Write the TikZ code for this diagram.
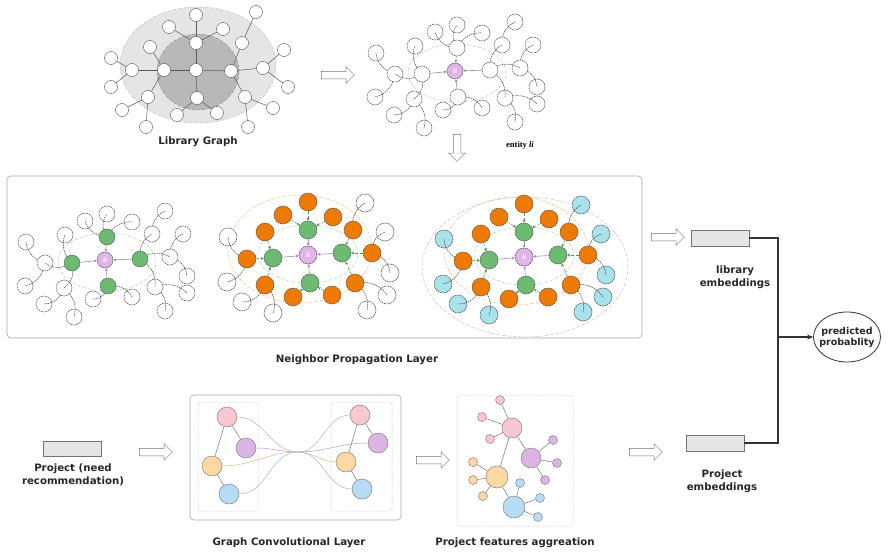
\documentclass[tikz,border=0pt]{standalone}
\usepackage{fontspec}
\setmainfont{DejaVu Sans}
\newfontfamily\timesfont{Liberation Serif}
\usetikzlibrary{shapes.geometric,shapes.arrows,arrows.meta}

% Colours of the figure
\definecolor{nodegreen}{HTML}{6DBB72}
\definecolor{nodeorange}{HTML}{EF7A00}
\definecolor{nodecyan}{HTML}{A8E2EA}
\definecolor{nodeli}{HTML}{E0B4E6}
\definecolor{softpink}{HTML}{F8C7D1}
\definecolor{softpurple}{HTML}{DDB5E4}
\definecolor{softorange}{HTML}{FCD9A3}
\definecolor{softblue}{HTML}{B6DBF4}

\tikzset{
  plainnode/.style={circle, draw=black!70, dash pattern=on 1.6pt off 0.7pt, line width=0.5pt, fill=white, minimum size=16pt, inner sep=0pt},
  bignode/.style={plainnode, minimum size=18pt},
  linode/.style={plainnode, fill=nodeli, text=white, font=\timesfont\bfseries\itshape\fontsize{7}{7}\selectfont},
  libnode/.style={circle, draw=black!70, line width=0.4pt, fill=white, minimum size=13pt, inner sep=0pt},
  linkline/.style={draw=black!70, dash pattern=on 1.6pt off 0.7pt, line width=0.5pt},
  liarrow/.style={draw=nodeli!75!black, line width=0.6pt, -{Stealth[length=3pt,width=3pt]}},
  hoparrow/.style={draw=nodegreen!75!black, densely dashed, line width=0.5pt, -{Stealth[length=3pt,width=3pt]}},
  greenring/.style={draw=nodegreen!60, densely dash dot, line width=0.5pt},
  orangering/.style={draw=nodeorange!50, densely dash dot, line width=0.5pt},
  grayring/.style={draw=black!25, densely dash dot, line width=0.5pt},
  hollow/.style={single arrow, draw=black!55, fill=white, line width=0.5pt, minimum height=33pt, inner sep=3.5pt, single arrow head extend=4.5pt},
  titletext/.style={font=\bfseries\fontsize{10.2}{12.5}\selectfont, text=black!85, align=center},
  embbox/.style={draw=black!55, fill=black!10, line width=0.5pt, minimum width=58pt, minimum height=16pt, inner sep=0pt},
  joinline/.style={draw=black!80, line width=1.4pt},
  panel/.style={draw=black!35, rounded corners=4pt, line width=0.6pt},
  dashpanel/.style={draw=black!35, densely dotted, rounded corners=3pt, line width=0.5pt},
  featnode/.style={circle, draw=black!55, line width=0.4pt, inner sep=0pt},
  featline/.style={draw=black!55, line width=0.5pt},
}

% Entity li with its first-hop neighbours (#1 = fill of the neighbours)
\newcommand{\entitygraph}[1]{%
  \draw[greenring] (2,2) ellipse (49pt and 29pt);
  \node[linode] (li) at (0,0) {li};
  \foreach \n/\x/\y in {n1/2/-23, n2/-33/3, n3/35/-1, n4/3/26}
    \node[plainnode, fill=#1] (\n) at (\x,\y) {};
  \foreach \n/\x/\y in {o5/-20/-39, o6/2/-46, o7/27/-38, o8/-40/-25, o9/-60/3, o10/-79/-18,
                        o11/-80/26, o12/-41/28, o13/-61/44, o14/-31/57, o15/-12/39, o16/27/37,
                        o17/47/-26, o18/60/-49, o19/78/-26, o20/65/-3, o21/82/16, o22/82/33,
                        o23/50/27, o24/60/51}
    \node[plainnode] (\n) at (\x,\y) {};
  \foreach \n in {n1,n2,n3,n4}
    \draw[liarrow] (\n) -- (li);
  \foreach \p/\n in {n1/o5, n1/o6, n1/o7, n2/o8, n2/o9, o9/o10, o9/o11, n2/o12, o12/o13,
                     o12/o14, n4/o15, n4/o16, n3/o17, o17/o18, o20/o19, n3/o20, o20/o21,
                     o23/o22, n3/o23, o23/o24}
    \draw[linkline] (\p) to[bend left=25] (\n);
}

% Entity li with first- and second-hop neighbours (#1 = fill of the outer nodes)
\newcommand{\twohopgraph}[1]{%
  \draw[orangering] (-8,-6) ellipse (72pt and 54pt);
  \draw[greenring] (0,-1) ellipse (50pt and 29pt);
  \node[linode, minimum size=18pt] (li) at (0,0) {li};
  \foreach \n/\x/\y in {n1/0/-25, n2/-35/3, n3/34/-2, n4/2/28}
    \node[bignode, fill=nodegreen] (\n) at (\x,\y) {};
  \foreach \n/\x/\y in {m5/0/-53, m6/-25/-40, m7/25/-38, m8/-43/-23, m9/-61/4, m10/-43/30,
                        m11/45/-25, m12/64/-2, m13/47/28, m14/-15/42, m15/24/40}
    \node[bignode, fill=nodeorange] (\n) at (\x,\y) {};
  \foreach \n/\x/\y in {o16/57/-52, o17/-80/-18, o18/77/-23, o19/-81/27, o20/82/18,
                        o21/-66/47, o22/79/40, o23/-35/58, o24/59/55}
    \node[bignode, fill=#1] (\n) at (\x,\y) {};
  \foreach \n in {n1,n2,n3,n4}
    \draw[liarrow] (\n) -- (li);
  \foreach \n/\p in {m5/n1, m6/n1, m7/n1, m8/n2, m9/n2, m10/n2, m11/n3, m12/n3, m13/n3,
                     m14/n4, m15/n4}
    \draw[hoparrow] (\n) -- (\p);
  \foreach \p/\n in {m11/o16, m9/o17, m12/o18, m9/o19, m12/o20, m10/o21, m13/o22,
                     m10/o23, m13/o24}
    \draw[linkline] (\p) to[bend left=25] (\n);
}

\begin{document}
\begin{tikzpicture}[x=1pt,y=-1pt]
\useasboundingbox (0,0) rectangle (891,554);

% Library graph: shaded rings
\draw[grayring, fill=black!10] (198,65) ellipse (78pt and 58pt);
\draw[draw=black!45, densely dashed, fill=black!28] (198,72) ellipse (41pt and 38pt);

% Library graph: nodes
\foreach \n/\x/\y in {g0/196/70, g1/196/43, g2/197/98, g3/164/70, g4/231/71, g5/196/15,
                      g6/169/27, g7/223/29, g8/150/47, g9/242/43, g10/132/70, g11/263/68,
                      g12/148/97, g13/245/97, g14/177/115, g15/217/113, g16/111/58,
                      g17/111/87, g18/122/110, g19/146/127, g20/256/12, g21/284/50,
                      g22/288/87, g23/273/108, g24/248/127}
  \node[libnode] (\n) at (\x,\y) {};

% Library graph: links
\foreach \a/\b in {g0/g1, g0/g2, g0/g3, g0/g4, g1/g5, g1/g6, g1/g7, g3/g8, g3/g10, g3/g12,
                   g4/g9, g4/g11, g4/g13, g2/g14, g2/g15, g10/g16, g10/g17, g12/g18,
                   g12/g19, g9/g20, g11/g21, g11/g22, g13/g23, g13/g24}
  \draw[black!65, line width=0.5pt] (\a) -- (\b);
\node[titletext] (libcap) at (198,142) {Library Graph};

% Arrow to the entity graph
\node[hollow] (arA) at (336,75) {};

% Entity li with its neighbours
\begin{scope}[shift={(455,71)}, name prefix=top-]
  \entitygraph{white}
\end{scope}
\node[font=\timesfont\bfseries\fontsize{8.5}{10}\selectfont] (entcap) at (520,145) {entity \textit{li}};
\node[hollow, shape border rotate=270, minimum height=27pt] (arB) at (457,146) {};

% Neighbor propagation layer
\draw[panel] (7,176) rectangle (642,338);
\begin{scope}[shift={(105,260)}, name prefix=hopA-]
  \entitygraph{nodegreen}
\end{scope}
\begin{scope}[shift={(308,255)}, name prefix=hopB-]
  \twohopgraph{white}
\end{scope}
\draw[grayring] (525,267) ellipse (103pt and 70pt);
\begin{scope}[shift={(524,257)}, name prefix=hopC-]
  \twohopgraph{nodecyan}
\end{scope}
\node[titletext] (npcap) at (357,360) {Neighbor Propagation Layer};

% Library embeddings
\node[hollow] (arC) at (666,237) {};
\node[embbox] (libemb) at (720,238) {};
\node[titletext] (libcap2) at (735,277) {library\\embeddings};

% Project side
\node[embbox, minimum height=15pt] (projin) at (72,449) {};
\node[titletext] (projcap) at (73,475) {Project (need\\recommendation)};
\node[hollow] (arD) at (154,452) {};

% Graph convolutional layer
\draw[panel] (190,395) rectangle (401,520);
\draw[dashpanel] (198,402) rectangle (258,511);
\draw[dashpanel] (331,402) rectangle (392,511);
\coordinate (gmid) at (298,452);
\foreach \n/\x/\y/\c in {lp/227/417/softpink, lu/246/448/softpurple, lo/212/466/softorange,
                         lb/229/494/softblue, rp/360/415/softpink, ru/378/443/softpurple,
                         ro/346/462/softorange, rb/362/489/softblue}
  \node[featnode, fill=\c, minimum size=20pt] (\n) at (\x,\y) {};
\foreach \a/\b/\c in {lp/rp/softpink, lu/ru/softpurple, lo/ro/softorange, lb/rb/softblue}
  \draw[draw=\c!85!black, line width=0.5pt] (\a.east) to[out=0,in=180] (gmid) to[out=0,in=180] (\b.west);
\foreach \a/\b in {lp/lo, lp/lu, lo/lb, rp/ro, rp/ru, ro/rb}
  \draw[featline] (\a) -- (\b);
\node[titletext] (gcncap) at (289,543) {Graph Convolutional Layer};
\node[hollow] (arE) at (431,460) {};

% Project features aggregation
\draw[dashpanel] (457,395) rectangle (573,526);
\foreach \n/\x/\y/\c/\s in {fp/512/428/softpink/20, fu/531/458/softpurple/20,
                            fo/497/477/softorange/22, fb/514/507/softblue/22,
                            fp1/500/400/softpink/9, fp2/482/417/softpink/9, fp3/490/439/softpink/9,
                            fu1/553/440/softpurple/9, fu2/557/463/softpurple/9, fu3/545/480/softpurple/9,
                            fo1/473/462/softorange/9, fo2/473/480/softorange/9, fo3/483/496/softorange/9,
                            fb1/520/483/softblue/9, fb2/540/498/softblue/9, fb3/538/517/softblue/9}
  \node[featnode, fill=\c, minimum size=\s] (\n) at (\x,\y) {};
\foreach \a/\b in {fp/fp1, fp/fp2, fp/fp3, fp/fu, fp/fo, fu/fu1, fu/fu2, fu/fu3,
                   fo/fo1, fo/fo2, fo/fo3, fo/fb, fb/fb1, fb/fb2, fb/fb3}
  \draw[featline] (\a) -- (\b);
\node[titletext] (aggcap) at (515,543) {Project features aggreation};
\node[hollow] (arF) at (644,452) {};

% Project embeddings
\node[embbox] (projemb) at (715,443) {};
\node[titletext] (projcap2) at (722,481) {Project\\embeddings};

% Joining the two embeddings
\coordinate (joint) at (778,337);
\node[ellipse, draw=black!80, line width=0.8pt, minimum width=67pt, minimum height=50pt] (pred) at (847,337) {};
\node[font=\bfseries\fontsize{9.5}{11}\selectfont, align=center, text=black!85] (predtext) at (pred.center) {predicted\\probablity};
\draw[joinline] (libemb.east) -| (joint) |- (projemb.east);
\draw[joinline, -{Stealth[length=6pt,width=5pt]}] (joint) -- (pred);
\end{tikzpicture}
\end{document}
